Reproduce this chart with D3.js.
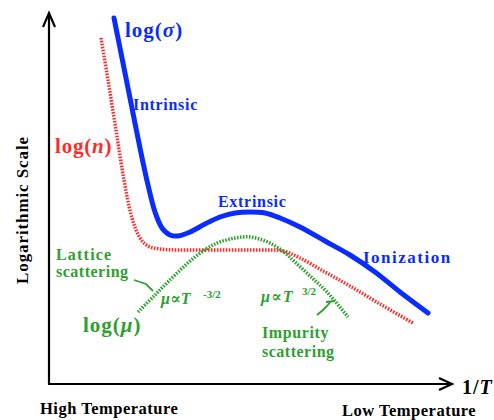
<!DOCTYPE html>
<html><head><meta charset="utf-8">
<script src="https://cdn.jsdelivr.net/npm/d3@7"></script>
<style>body{margin:0;background:#fff}svg{display:block}text{font-family:"Liberation Serif","DejaVu Serif",serif;font-weight:bold}</style>
</head><body><svg id="c" width="494" height="420"></svg>
<script>
// Data in arbitrary units: x = 1/T (increasing to the right), y = log scale
const sigmaX = [65,73,81,91,99,106,113,121,129,141,156,171,186,201,216,231,251,276,301,326,351,379];
const sigmaY = [366,326,286,236,199,172,156,149,148,152,160,167,171,172,171,166,157,143,129,112,92,71];
const nX = [52,59,67,75,83,91,99,111,131,171,211,234,251,276,301,331,364];
const nY = [346,304,254,204,166,146,138,135,134,134,134,133,126,112,98,80,61];
const muX = [89,106,126,146,166,186,201,216,231,246,261,278,299];
const muY = [72,89,109,127,140,146,147,143,135,122,108,92,67];

const svg = d3.select("#c");
const x = d3.scaleLinear().domain([0,400]).range([49,449]);
const y = d3.scaleLinear().domain([0,372]).range([384,12]);

const line = d3.line().x(d=>x(d[0])).y(d=>y(d[1])).curve(d3.curveCatmullRom);
const zip = (a,b)=>a.map((v,i)=>[v,b[i]]);

// axes
const ax = svg.append("g").attr("stroke","#000").attr("stroke-width",2.2).attr("fill","none");
ax.append("path").attr("d",`M${x(0)},${y(0)}V${y(370)}`);
ax.append("path").attr("d",`M${x(0)-1},${y(0)}H${x(402)}`);
ax.append("path").attr("d",`M${x(0)-6},${y(357)}L${x(0)},${y(371)}L${x(0)+6},${y(357)}`);
ax.append("path").attr("d",`M${x(390)},${y(6)}L${x(403)},${y(0)}L${x(390)},${y(-6)}`);

// curves
svg.append("path").attr("d",line(zip(nX,nY))).attr("fill","none").attr("stroke","#ff2a2a")
  .attr("stroke-width",3.5).attr("stroke-dasharray","1.6,1.4");
svg.append("path").attr("d",line(zip(muX,muY))).attr("fill","none").attr("stroke","#2ea02e")
  .attr("stroke-width",3.5).attr("stroke-dasharray","1.6,1.4");
svg.append("path").attr("d",line(zip(sigmaX,sigmaY))).attr("fill","none").attr("stroke","#0a2cff")
  .attr("stroke-width",5).attr("stroke-linecap","round");

// leader lines
svg.append("path").attr("d","M134,280 L146,284 L153,291").attr("fill","none").attr("stroke","#2ea02e").attr("stroke-width",1.8);
svg.append("path").attr("d","M317,315 L323,310 L328,305 L331,301 M326,302 L335,301").attr("fill","none").attr("stroke","#2ea02e").attr("stroke-width",1.8);

function t(txt,px,py,col,size,opts={}){
  const e=svg.append("text").attr("x",px).attr("y",py).attr("fill",col).attr("font-size",size);
  if(opts.anchor) e.attr("text-anchor",opts.anchor);
  if(opts.ls!==undefined) e.attr("letter-spacing",opts.ls);
  if(opts.rot) e.attr("transform",`rotate(${opts.rot},${px},${py})`);
  if(opts.html) e.html(txt); else e.text(txt);
  return e;
}
const blue="#0a2cff", red="#ff2a2a", green="#2ea02e";
t('log(<tspan font-style="italic">σ</tspan>)',125,37,blue,21,{html:true,ls:1});
t("Intrinsic",133,110,blue,16,{ls:0.7});
t('log(<tspan font-style="italic">n</tspan>)',55,153,red,21,{html:true,ls:0.8});
t("Extrinsic",218,207,blue,16,{ls:0.7});
t("Ionization",363,263,blue,17,{ls:1.5});
t("Lattice",56,260,green,16,{ls:1.2});
t("scattering",56,277,green,16,{ls:0.5});
t('<tspan font-style="italic">μ</tspan>∝<tspan font-style="italic">T</tspan>',161,304,green,16,{html:true});
t("-3/2",203,298,green,11);
t('log(<tspan font-style="italic">μ</tspan>)',83,332,green,21,{html:true,ls:1});
t('<tspan font-style="italic">μ</tspan>∝<tspan font-style="italic">T</tspan>',261,302,green,16,{html:true,ls:1});
t("3/2",302,295,green,11);
t("Impurity",262,338,green,16,{ls:0.6});
t("scattering",262,357,green,16,{ls:0.5});
t("Logarithmic Scale",28,210,"#000",17,{anchor:"middle",rot:-90,ls:0.9});
t('1/<tspan font-style="italic">T</tspan>',462,394,"#000",20,{html:true,ls:1});
t("High Temperature",40,414,"#000",16.5,{ls:0.5});
t("Low Temperature",342,416,"#000",16.5,{ls:0.5});
</script></body></html>
